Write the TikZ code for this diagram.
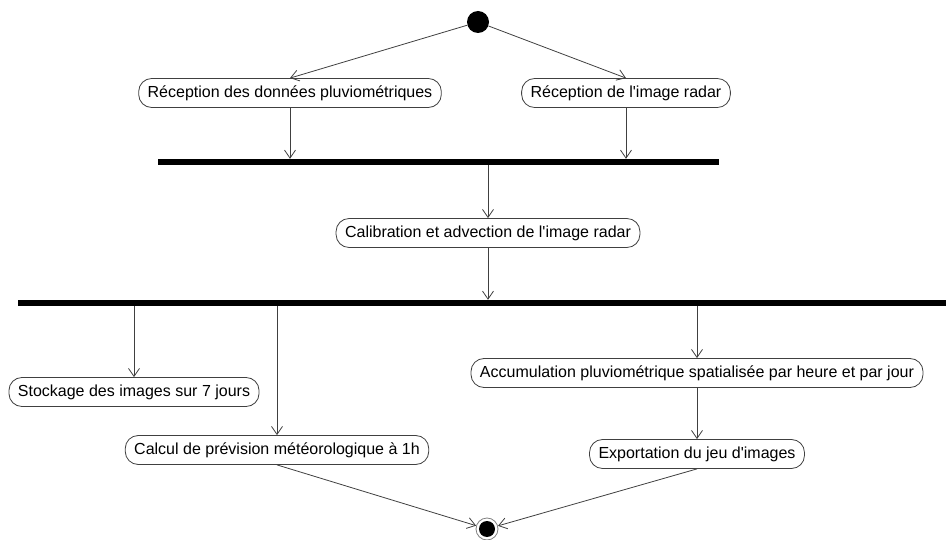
\documentclass[tikz,border=0pt]{standalone}
\usepackage{fontspec}
\setmainfont{Liberation Sans}
\usetikzlibrary{arrows.meta}
\definecolor{edgegray}{HTML}{404040}
\tikzset{
  act/.style={draw=edgegray, line width=0.8pt, rounded corners=13pt, minimum height=29pt,
    inner xsep=9pt, inner ysep=0pt, font=\fontsize{16}{19}\selectfont, fill=white},
  forkbar/.style={fill=black, draw=none, minimum height=6pt, inner sep=0pt},
  flow/.style={draw=edgegray, line width=0.8pt, -{Straight Barb[length=8pt,width=11pt]}},
  plain/.style={draw=edgegray, line width=0.8pt}
}
\begin{document}
\begin{tikzpicture}[x=1pt,y=-1pt]
\useasboundingbox (0,0) rectangle (946,540);
\node[circle, fill=black, minimum size=22pt, inner sep=0pt] (start) at (478,22) {};
\node[act] (n1) at (290,93) {Réception des données pluviométriques};
\node[act] (n2) at (626,93) {Réception de l\textquotesingle image radar};
\node[forkbar, minimum width=561pt] (b1) at (438.5,162) {};
\node[act] (cal) at (488,233) {Calibration et advection de l\textquotesingle image radar};
\node[forkbar, minimum width=928pt] (b2) at (482,303) {};
\node[act] (sto) at (134,392) {Stockage des images sur 7 jours};
\node[act] (calc) at (277,450) {Calcul de prévision météorologique à 1h};
\node[act] (acc) at (697,373) {Accumulation pluviométrique spatialisée par heure et par jour};
\node[act] (exp) at (697,454) {Exportation du jeu d\textquotesingle images};
\node[circle, draw=gray, line width=0.8pt, minimum size=22pt, inner sep=0pt] (end) at (487,529) {};
\fill (end.center) circle (8pt);

\draw[flow] (start) -- (n1.north);
\draw[flow] (start) -- (n2.north);
\draw[flow] (n1.south) -- (n1.south |- b1.north);
\draw[flow] (n2.south) -- (n2.south |- b1.north);
\draw[flow] (cal.north |- b1.south) -- (cal.north);
\draw[flow] (cal.south) -- (cal.south |- b2.north);
\draw[flow] (sto.north |- b2.south) -- (sto.north);
\draw[flow] (calc.north |- b2.south) -- (calc.north);
\draw[flow] (acc.north |- b2.south) -- (acc.north);
\draw[flow] (acc.south) -- (exp.north);
\draw[flow] (calc.south) -- (end);
\draw[flow] (exp.south) -- (end);
\end{tikzpicture}
\end{document}
